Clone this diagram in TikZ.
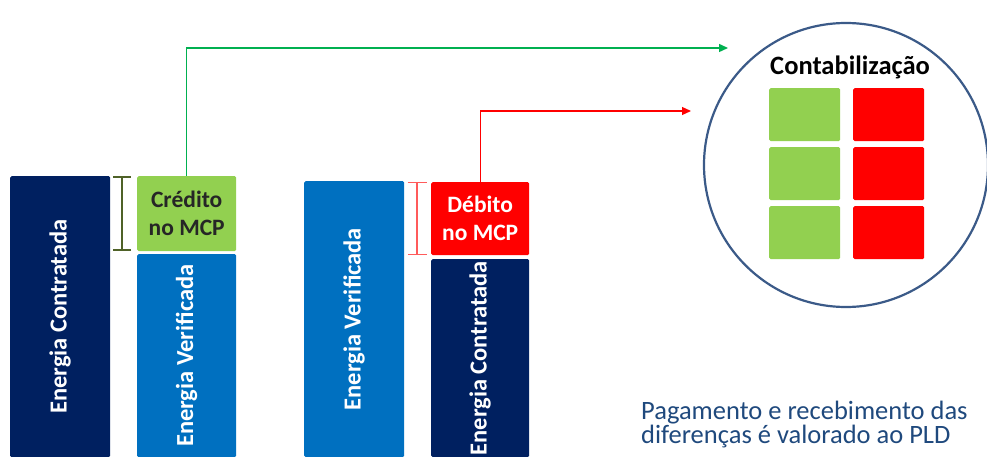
\documentclass[tikz,border=0pt]{standalone}
\usepackage{fontspec}
\setmainfont{Carlito}
\usetikzlibrary{arrows.meta}
\definecolor{navy}{HTML}{002060}
\definecolor{mblue}{HTML}{0070C0}
\definecolor{lgreen}{HTML}{92D050}
\definecolor{mred}{HTML}{FF0000}
\definecolor{agreen}{HTML}{00B050}
\definecolor{olive}{HTML}{4F6228}
\definecolor{lred}{HTML}{FF5B5B}
\definecolor{ring}{HTML}{3B5A88}
\definecolor{txtblue}{HTML}{1F497D}
\tikzset{
  bar/.style={rounded corners=1.5pt, anchor=north west, inner sep=0pt},
  bartext/.style={text=white, font=\bfseries\fontsize{24.5}{28}\selectfont, rotate=90},
  boxtext/.style={font=\bfseries\fontsize{23.5}{28}\selectfont, align=center},
  cell/.style={rounded corners=1.5pt, anchor=north west, inner sep=0pt, minimum width=71pt, minimum height=53pt},
  conn/.style={line width=1.4pt, -{Triangle[length=9pt,width=8pt]}},
  notetext/.style={anchor=base west, inner sep=0pt, text=txtblue, font=\fontsize{26.5}{24}\selectfont},
}
\begin{document}
\begin{tikzpicture}[x=1pt,y=-1pt]
\useasboundingbox (0,0) rectangle (987,457);
% left group
\node[bar, fill=navy, minimum width=100pt, minimum height=281pt] (ec1) at (10,176) {};
\node[bartext] at (ec1.center) {Energia Contratada};
\node[bar, fill=lgreen, minimum width=99pt, minimum height=75pt] (cred) at (137,176) {};
\node[boxtext, text=black!85] at (cred.center) {Crédito\\no MCP};
\node[bar, fill=mblue, minimum width=99pt, minimum height=203pt] (ev1) at (137,254) {};
\node[bartext] at (ev1.center) {Energia Verificada};
\coordinate (b1t) at (122,176);
\coordinate (b1b) at (122,251);
\draw[olive, line width=1.6pt, {Bar[width=18pt]}-{Bar[width=18pt]}] (b1t) -- (b1b);
% right group
\node[bar, fill=mblue, minimum width=100pt, minimum height=276pt] (ev2) at (304,181) {};
\node[bartext] at (ev2.center) {Energia Verificada};
\node[bar, fill=mred, minimum width=98pt, minimum height=73pt] (deb) at (431,182) {};
\node[boxtext, text=white] at (deb.center) {Débito\\no MCP};
\node[bar, fill=navy, minimum width=98pt, minimum height=198pt] (ec2) at (431,259) {};
\node[bartext] at (ec2.center) {Energia Contratada};
\coordinate (b2t) at (417,182);
\coordinate (b2b) at (417,255);
\draw[lred, line width=1.2pt, {Bar[width=19pt]}-{Bar[width=19pt]}] (b2t) -- (b2b);
% circle
\node[circle, draw=ring, line width=2.2pt, minimum size=284pt, inner sep=0pt] (circ) at (846,165) {};
\node[anchor=base, inner sep=0pt, font=\bfseries\fontsize{26.5}{30}\selectfont] (title) at (850,75) {Contabilização};
\node[cell, fill=lgreen] (g1) at (769,88) {};
\node[cell, fill=lgreen] (g2) at (769,147) {};
\node[cell, fill=lgreen] (g3) at (769,206) {};
\node[cell, fill=mred] (r1) at (853,88) {};
\node[cell, fill=mred] (r2) at (853,147) {};
\node[cell, fill=mred] (r3) at (853,206) {};
% connectors
\coordinate (gend) at (728,48);
\coordinate (rend) at (691,111);
\draw[conn, agreen] (cred.north) |- (gend);
\draw[conn, mred, line width=1.2pt] (deb.north) |- (rend);
% bottom text
\node[notetext] (note1) at (641,419) {Pagamento e recebimento das};
\node[notetext] (note2) at (641,443) {diferenças é valorado ao PLD};
\end{tikzpicture}
\end{document}
